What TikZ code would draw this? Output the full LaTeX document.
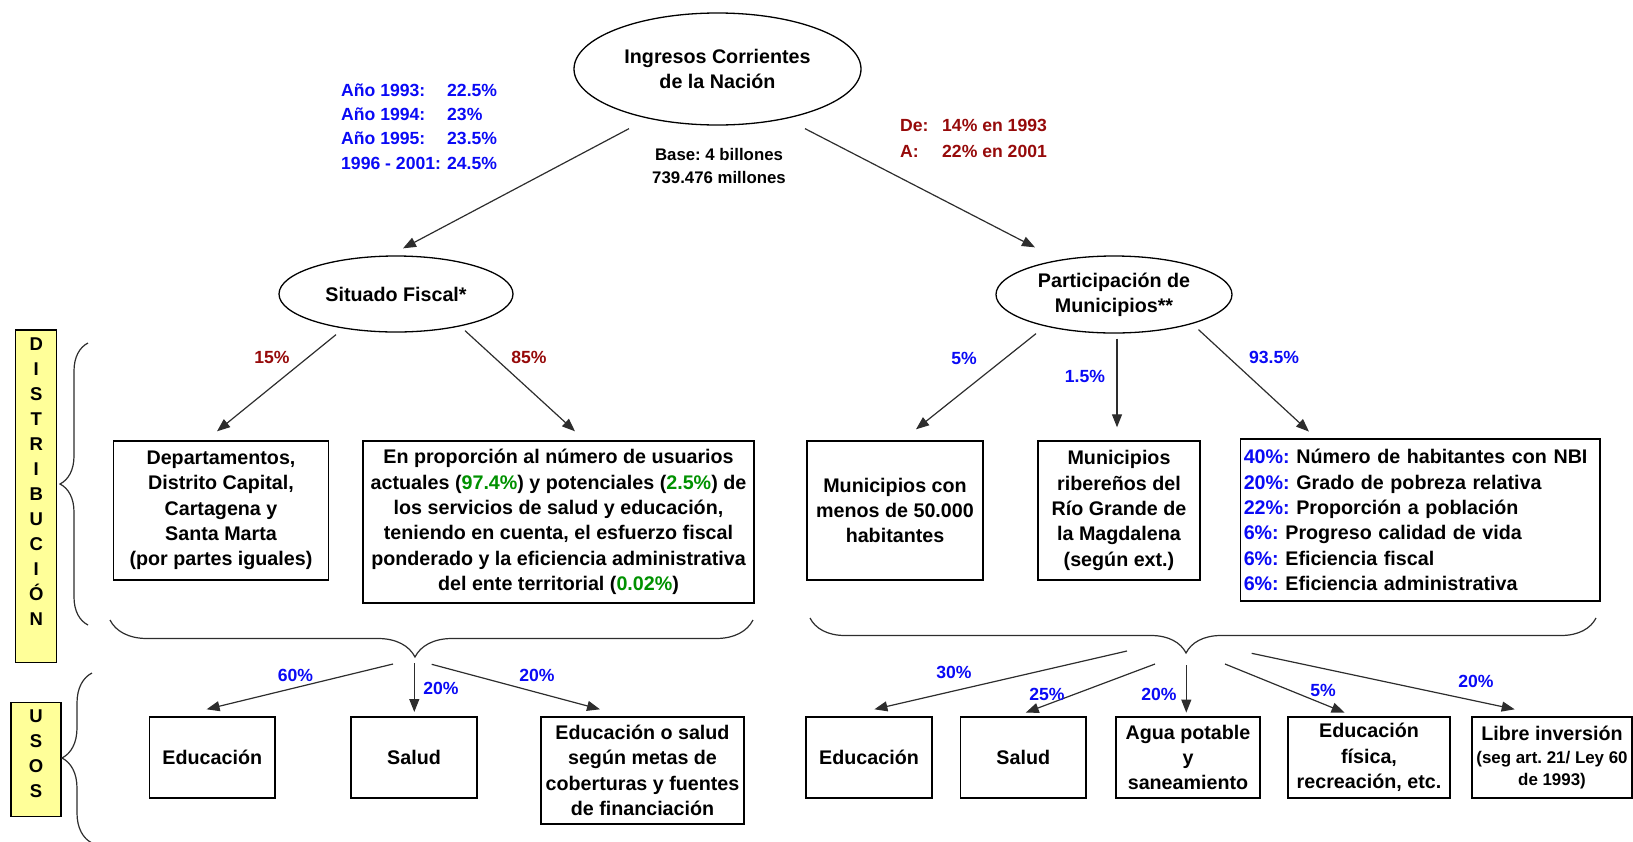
\documentclass[tikz,border=0pt]{standalone}
\usepackage{fontspec}
\setmainfont{Liberation Sans}
\usetikzlibrary{shapes.geometric,arrows.meta,decorations.pathreplacing}
\definecolor{azul}{RGB}{10,10,245}
\definecolor{rojo}{RGB}{150,10,10}
\definecolor{verde}{RGB}{0,145,0}
\definecolor{amarillo}{RGB}{255,255,153}
\definecolor{linea}{RGB}{45,45,45}
\frenchspacing

\begin{document}
\begin{tikzpicture}[x=1pt,y=-1pt,
  every node/.style={font=\bfseries\fontsize{19.7}{25.3}\selectfont, inner sep=0pt},
  elli/.style={draw, ellipse, line width=1.3pt, align=center},
  caja/.style={draw, rectangle, line width=1.4pt, align=center},
  pct/.style={font=\bfseries\fontsize{17.6}{24.3}\selectfont, text=azul},
  pctr/.style={pct, text=rojo},
  flecha/.style={draw=linea, line width=1.2pt, -{Triangle[length=13pt,width=10pt]}},
  llave/.style={draw=linea, line width=1.2pt, decorate},
  franja/.style={draw, fill=amarillo, line width=1.2pt, align=center, font=\bfseries\fontsize{18.5}{25}\selectfont}]
\useasboundingbox (0,0) rectangle (1633,841);

% top level
\node (ingresos) [elli, minimum width=287pt, minimum height=112pt] at (717.5,69) {Ingresos Corrientes\\de la Nación};
\node (base) [font=\bfseries\fontsize{16.8}{23}\selectfont, align=center] at (719,166.5) {Base: 4 billones\\739.476 millones};
\node (anios) [pct, anchor=west, align=left] at (341,126.5) {\makebox[106pt][l]{Año 1993:}22.5\%\\\makebox[106pt][l]{Año 1994:}23\%\\\makebox[106pt][l]{Año 1995:}23.5\%\\\makebox[106pt][l]{1996 - 2001:}24.5\%};
\node (rangos) [pctr, anchor=west, align=left, font=\bfseries\fontsize{17.6}{26}\selectfont] at (900,138) {\makebox[42pt][l]{De:}14\% en 1993\\\makebox[42pt][l]{A:}22\% en 2001};

\node (situado) [elli, minimum width=234pt, minimum height=76pt] at (396,294) {Situado Fiscal*};
\node (partic) [elli, minimum width=236pt, minimum height=77pt] at (1114,294.5) {Participación de\\Municipios**};

\draw[flecha] ([xshift=-88.5pt,yshift=-3pt]ingresos.south) -- ([xshift=7pt,yshift=7pt]situado.north);
\draw[flecha] ([xshift=87.5pt,yshift=-3pt]ingresos.south) -- ([xshift=-79pt,yshift=8pt]partic.north);

% distribucion
\node (deptos) [caja, minimum width=215pt, minimum height=139pt] at (221,510.5) {Departamentos,\\Distrito Capital,\\Cartagena y\\Santa Marta\\(por partes iguales)};
\node (proporcion) [caja, minimum width=391pt, minimum height=162pt] at (558.5,522) {En proporción al número de usuarios\\actuales (\textcolor{verde}{97.4\%}) y potenciales (\textcolor{verde}{2.5\%}) de\\los servicios de salud y educación,\\teniendo en cuenta, el esfuerzo fiscal\\ponderado y la eficiencia administrativa\\del ente territorial (\textcolor{verde}{0.02\%})};
\node (menos) [caja, minimum width=176pt, minimum height=139pt] at (895,510.5) {Municipios con\\menos de 50.000\\habitantes};
\node (riberenos) [caja, minimum width=162pt, minimum height=139pt] at (1119,510.5) {Municipios\\ribereños del\\Río Grande de\\la Magdalena\\(según ext.)};
\node (nbi) [caja, align=left, text width=353pt, minimum width=359.5pt, minimum height=162pt] at (1420.25,520) {\textcolor{azul}{40\%:} Número de habitantes con NBI\\\textcolor{azul}{20\%:} Grado de pobreza relativa\\\textcolor{azul}{22\%:} Proporción a población\\\textcolor{azul}{6\%:} Progreso calidad de vida\\\textcolor{azul}{6\%:} Eficiencia fiscal\\\textcolor{azul}{6\%:} Eficiencia administrativa};

\node (p15) [pctr] at (272,357) {15\%};
\node (p85) [pctr] at (529,357) {85\%};
\node (p5) [pct] at (964,358) {5\%};
\node (p15b) [pct] at (1085,376) {1.5\%};
\node (p935) [pct] at (1274,357) {93.5\%};

\draw[flecha] ([xshift=-60pt,yshift=-2pt]situado.south) -- ([xshift=-4pt,yshift=9pt]deptos.north);
\draw[flecha] ([xshift=69pt,yshift=2pt]situado.south) -- ([xshift=16.5pt,yshift=9pt]proporcion.north);
\draw[flecha] ([xshift=-78pt]partic.south) -- ([xshift=21pt,yshift=11pt]menos.north);
\draw[flecha] ([xshift=3pt,yshift=-5pt]partic.south) -- ([xshift=-2pt,yshift=13pt]riberenos.north);
\draw[flecha] ([xshift=84.5pt,yshift=4pt]partic.south) -- ([xshift=-111.25pt,yshift=6.7pt]nbi.north);

% side labels
\node (distrib) [franja, minimum width=41pt, minimum height=332.7pt, text depth=30pt] at (36.2,496.3) {D\\I\\S\\T\\R\\I\\B\\U\\C\\I\\Ó\\N};
\node (usos) [franja, minimum width=50pt, minimum height=114pt, text depth=12pt] at (36,759.7) {U\\S\\O\\S};
\draw[llave, decoration={brace, amplitude=28pt}] (88,625) -- (88,343);
\draw[llave, decoration={brace, amplitude=30pt}] (92,843) -- (92,673);

% usos
\draw[llave, decoration={brace, amplitude=37pt, aspect=0.5257}] (753,620) -- (110,620);
\draw[llave, decoration={brace, amplitude=35pt, aspect=0.5216}] (1596,618) -- (810,618);

\node (eduS) [caja, minimum width=125.4pt, minimum height=81pt] at (212.3,757.5) {Educación};
\node (saludS) [caja, minimum width=126pt, minimum height=81pt] at (414,757.5) {Salud};
\node (edsal) [caja, minimum width=203pt, minimum height=107pt] at (642.5,770.5) {Educación o salud\\según metas de\\coberturas y fuentes\\de financiación};
\node (eduP) [caja, minimum width=126pt, minimum height=81pt] at (869,757.5) {Educación};
\node (saludP) [caja, minimum width=125.5pt, minimum height=81pt] at (1023.25,757.5) {Salud};
\node (agua) [caja, minimum width=144pt, minimum height=81pt] at (1188,757.5) {Agua potable\\y\\saneamiento};
\node (fisica) [caja, minimum width=162pt, minimum height=81pt] at (1369,757.5) {Educación\\física,\\recreación, etc.};
\node (libre) [caja, minimum width=160pt, minimum height=81pt] at (1552,757.5) {Libre inversión\\[-2pt]\fontsize{16.9}{21}\selectfont (seg art. 21/ Ley 60\\[-3.6pt]\fontsize{16.9}{21}\selectfont de 1993)};

\coordinate (s60) at (393,664);
\coordinate (s20a) at (414.3,663.3);
\coordinate (s20b) at (431.7,664.3);
\coordinate (s30) at (1127,651);
\coordinate (s25) at (1155,664);
\coordinate (s20c) at (1186.3,665);
\coordinate (s5) at (1225,664);
\coordinate (s20d) at (1251.7,653.3);

\draw[flecha] (s60) -- ([xshift=-5.7pt,yshift=7pt]eduS.north);
\draw[flecha] (s20a) -- ([xshift=0.3pt,yshift=4.3pt]saludS.north);
\draw[flecha] (s20b) -- ([xshift=-42.5pt,yshift=7pt]edsal.north);
\draw[flecha] (s30) -- ([xshift=5.4pt,yshift=7pt]eduP.north);
\draw[flecha] (s25) -- ([xshift=2.5pt,yshift=3.7pt]saludP.north);
\draw[flecha] (s20c) -- ([xshift=-1.7pt,yshift=3.7pt]agua.north);
\draw[flecha] (s5) -- ([xshift=-24.4pt,yshift=3.7pt]fisica.north);
\draw[flecha] (s20d) -- ([xshift=-37.3pt,yshift=7pt]libre.north);

\node (p60) [pct] at (295.5,675) {60\%};
\node (p20a) [pct] at (441,688) {20\%};
\node (p20b) [pct] at (537,675) {20\%};
\node (p30) [pct] at (954,672) {30\%};
\node (p25) [pct] at (1047,694) {25\%};
\node (p20c) [pct] at (1159,694) {20\%};
\node (p5b) [pct] at (1323,690) {5\%};
\node (p20d) [pct] at (1476,681) {20\%};
\end{tikzpicture}
\end{document}
